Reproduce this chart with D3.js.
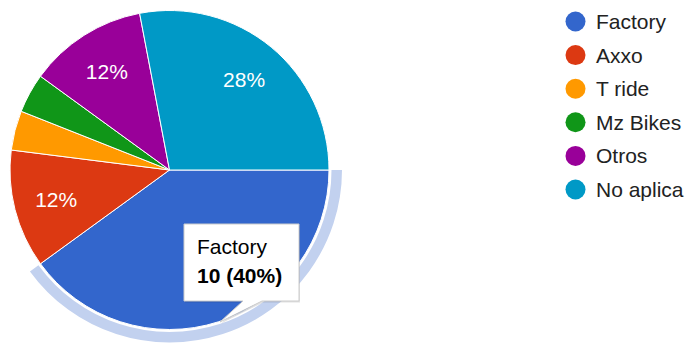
<!DOCTYPE html>
<html>
<head>
<meta charset="utf-8">
<script src="https://cdn.jsdelivr.net/npm/d3@7"></script>
<style>
  html, body { margin: 0; padding: 0; background: #fff; }
  svg { display: block; font-family: Arial, "Liberation Sans", sans-serif; }
</style>
</head>
<body>
<svg id="chart" width="687" height="343"></svg>
<script>
// Respuestas por marca
const categories = ["Factory", "Axxo", "T ride", "Mz Bikes", "Otros", "No aplica"];
const counts = [10, 3, 1, 1, 3, 7];
const colors = ["#3366cc", "#dc3912", "#ff9900", "#109618", "#990099", "#0099c6"];
const highlighted = 0; // slice with the hover ring and tooltip

const cx = 169.5, cy = 170, r = 159.5;
const fontSize = 21;

const svg = d3.select("#chart");
const total = d3.sum(counts);
const data = categories.map((c, i) => ({ name: c, value: counts[i], color: colors[i] }));

const pie = d3.pie().value(d => d.value).sort(null)
  .startAngle(Math.PI / 2).endAngle(Math.PI / 2 + 2 * Math.PI);
const arcs = pie(data);
const arc = d3.arc().innerRadius(0).outerRadius(r);
const labelArc = d3.arc().innerRadius(117).outerRadius(117);
const ring = d3.arc().innerRadius(r + 2.5).outerRadius(r + 13);

const g = svg.append("g").attr("transform", `translate(${cx},${cy})`);

// hover ring around the highlighted slice
g.append("path")
  .attr("d", ring(arcs[highlighted]))
  .attr("fill", "#c2d1ef");

g.selectAll("path.slice")
  .data(arcs)
  .join("path")
  .attr("class", "slice")
  .attr("d", arc)
  .attr("fill", d => d.data.color)
  .attr("stroke", "#fff")
  .attr("stroke-width", 1);

const fmt = v => Math.round(v / total * 100) + "%";

// percentage labels for slices big enough (the highlighted one sits under the tooltip)
g.selectAll("text.pct")
  .data(arcs.filter(d => d.index !== highlighted && d.data.value / total >= 0.1))
  .join("text")
  .attr("class", "pct")
  .attr("transform", d => `translate(${labelArc.centroid(d)})`)
  .attr("text-anchor", "middle")
  .attr("dy", "0.36em")
  .attr("fill", "#fff")
  .attr("font-size", fontSize)
  .text(d => fmt(d.data.value));

// legend
const legend = svg.append("g").attr("transform", "translate(575.5,21.5)");
const rowH = 33.6;
const items = legend.selectAll("g")
  .data(data)
  .join("g")
  .attr("transform", (d, i) => `translate(0,${i * rowH})`);
items.append("circle").attr("r", 10).attr("fill", d => d.color);
items.append("text")
  .attr("x", 20.5)
  .attr("dy", "0.36em")
  .attr("font-size", fontSize)
  .attr("fill", "#222")
  .text(d => d.name);

// tooltip
const tip = svg.append("g");
const bx = 184, by = 224, bw = 115, bh = 77;
const tipPath = d3.path();
tipPath.moveTo(bx, by);
tipPath.lineTo(bx + bw, by);
tipPath.lineTo(bx + bw, by + bh);
tipPath.lineTo(262, by + bh);
tipPath.lineTo(220, 322);
tipPath.lineTo(243, by + bh);
tipPath.lineTo(bx, by + bh);
tipPath.closePath();
tip.append("path")
  .attr("d", tipPath.toString())
  .attr("fill", "#000")
  .attr("opacity", 0.12)
  .attr("transform", "translate(1,1.5)");
tip.append("path")
  .attr("d", tipPath.toString())
  .attr("fill", "#fff")
  .attr("stroke", "#cccccc")
  .attr("stroke-width", 1);
const hd = data[highlighted];
tip.append("text")
  .attr("x", 197).attr("y", 254)
  .attr("font-size", fontSize).attr("fill", "#000")
  .text(hd.name);
tip.append("text")
  .attr("x", 197).attr("y", 283)
  .attr("font-size", fontSize).attr("font-weight", "bold").attr("fill", "#000")
  .text(`${hd.value} (${fmt(hd.value)})`);
</script>
</body>
</html>
